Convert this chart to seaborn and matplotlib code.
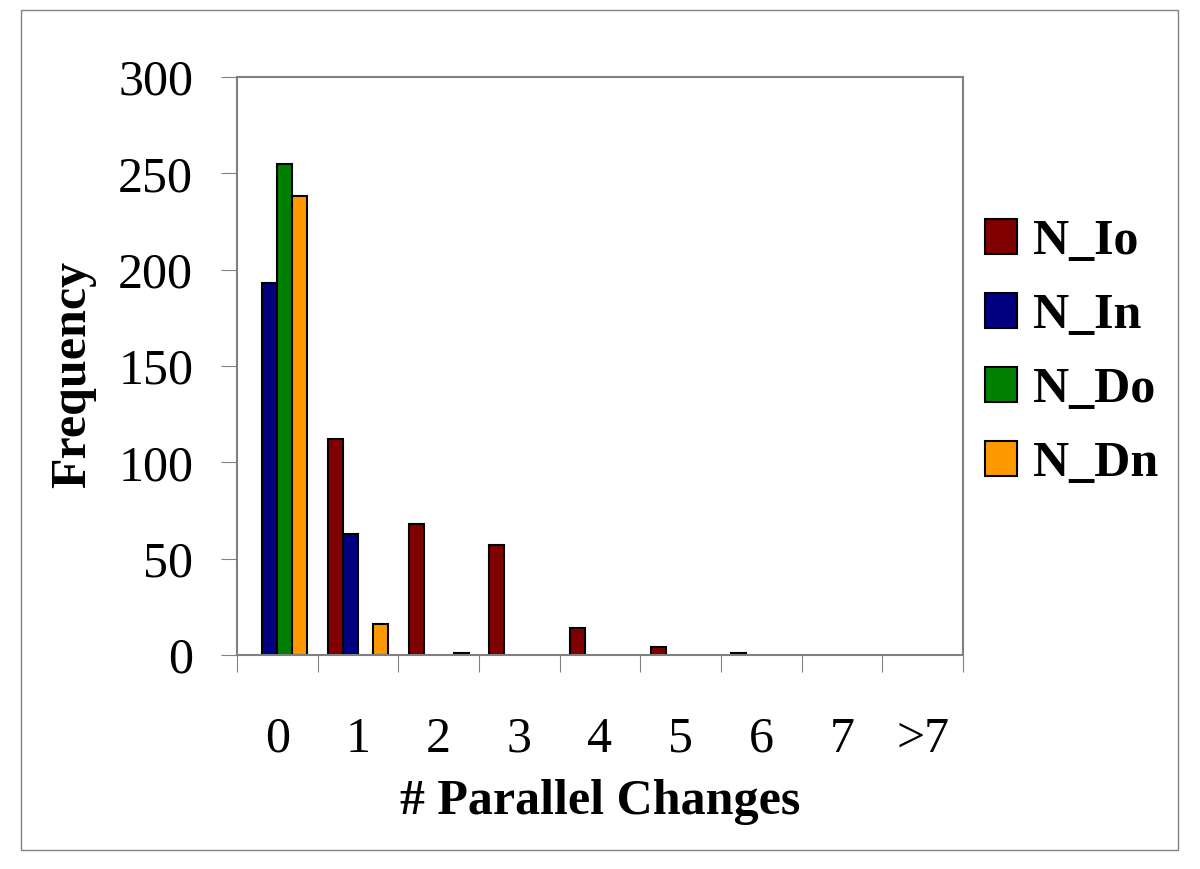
import matplotlib
matplotlib.use("Agg")
import matplotlib.pyplot as plt
import seaborn as sns
import pandas as pd
import numpy as np
from matplotlib.patches import Rectangle

# ---- data ----
categories = ["0", "1", "2", "3", "4", "5", "6", "7", ">7"]
n_io = [0, 112, 68, 57, 14, 4, 1, 0, 0]
n_in = [193, 63, 0, 0, 0, 0, 0, 0, 0]
n_do = [255, 0, 0, 0, 0, 0, 0, 0, 0]
n_dn = [238, 16, 1, 0, 0, 0, 0, 0, 0]
series_names = ["N_Io", "N_In", "N_Do", "N_Dn"]
series_colors = ["#800000", "#000080", "#008000", "#FF9900"]
y_ticks = [0, 50, 100, 150, 200, 250, 300]

rows = []
for name, vals in zip(series_names, [n_io, n_in, n_do, n_dn]):
    for c, v in zip(categories, vals):
        rows.append({"cat": c, "series": name, "value": v})
df = pd.DataFrame(rows)

sns.set_style("white")
plt.rcParams["font.family"] = ["Liberation Serif", "DejaVu Serif"]
plt.rcParams["text.color"] = "black"
plt.rcParams["axes.labelcolor"] = "black"
plt.rcParams["xtick.labelcolor"] = "black"
plt.rcParams["ytick.labelcolor"] = "black"

fig = plt.figure(figsize=(12, 8.69), dpi=100)
ax = fig.add_axes([237 / 1200, 1 - 655 / 869, 726 / 1200, 578 / 869])

sns.barplot(data=df, x="cat", y="value", hue="series", order=categories,
            hue_order=series_names, palette=series_colors, width=0.745,
            edgecolor="black", linewidth=1.5, saturation=1, ax=ax, errorbar=None)

for p in ax.patches:
    if p.get_height() == 0:
        p.set_linewidth(0)

ax.set_xlim(-0.5, len(categories) - 0.5)
ax.set_ylim(0, 300)
ax.set_yticks(y_ticks)
ax.set_yticklabels([str(t) for t in y_ticks])
ax.set_xticks(range(len(categories)))
ax.set_xticklabels(categories)
ax.set_xticks(np.arange(-0.5, len(categories), 1.0), minor=True)

for s in ax.spines.values():
    s.set_color("#808080")
    s.set_linewidth(1.5)

ax.tick_params(axis="y", which="major", direction="out", length=11.5, width=0.8,
               color="#808080", labelsize=36, pad=20, left=True, labelcolor="black")
ax.tick_params(axis="x", which="major", length=0, labelsize=36, pad=44, bottom=True,
               labelcolor="black")
ax.tick_params(axis="x", which="minor", direction="out", length=12, width=0.8,
               color="#808080", bottom=True)

ax.set_xlabel("# Parallel Changes", fontsize=36, fontweight="bold", color="black")
ax.xaxis.set_label_coords(0.5, -0.215)
ax.set_ylabel("Frequency", fontsize=36, fontweight="bold", color="black")
ax.yaxis.set_label_coords(-0.194, 0.486)

sns.move_legend(ax, "upper left", bbox_to_anchor=(985 / 1200, 1 - 219 / 869),
                bbox_transform=fig.transFigure, frameon=False, title=None,
                prop={"weight": "bold", "size": 36},
                handlelength=0.64, handleheight=0.68, handletextpad=0.32,
                labelspacing=0.56, borderpad=0, borderaxespad=0)
for t in ax.get_legend().get_texts():
    t.set_color("black")

fig.patches.append(Rectangle((20.7 / 1200, 1 - 850 / 869), 1157 / 1200, 839.7 / 869,
                             transform=fig.transFigure, fill=False,
                             edgecolor="#808080", linewidth=1.0))

fig.savefig("out.png", dpi=100)
